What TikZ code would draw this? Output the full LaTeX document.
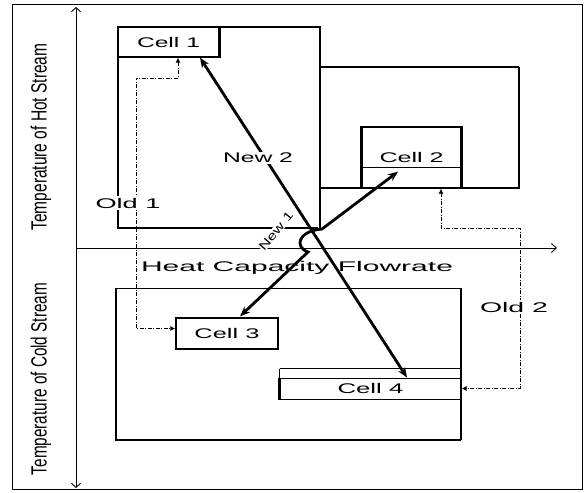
\documentclass[tikz,border=0pt]{standalone}
\usepackage{fontspec}
\setmainfont{Liberation Sans}
\usetikzlibrary{arrows.meta,calc}
\newcommand\wtxt[2]{\resizebox{#1}{\height}{#2}}
\begin{document}
\begin{tikzpicture}[x=1pt,y=-1pt,
 thk/.style={line width=2.6pt},
 med/.style={line width=1.6pt},
 thn/.style={line width=1pt},
 cellbox/.style={draw,line width=1.3pt,inner sep=0pt,font=\fontsize{14}{14}\selectfont},
 lbl/.style={fill=white,inner sep=1.5pt,font=\fontsize{14}{14}\selectfont},
 newflow/.style={line width=2.8pt,{Stealth[length=10pt,width=8pt]}-{Stealth[length=10pt,width=8pt]}},
 oldflow/.style={line width=0.9pt,dash pattern=on 4pt off 1.5pt on 1pt off 1.5pt,{Latex[length=5pt,width=5pt]}-{Latex[length=5pt,width=5pt]}},
 axis/.style={line width=0.9pt},
]
\useasboundingbox (0,0) rectangle (585,492);
\draw[thn] (12,5) rectangle (582,489);
% axes
\coordinate (ytop) at (76,7);
\coordinate (ybot) at (76,488);
\coordinate (xorg) at (76,248);
\coordinate (xend) at (557,248);
\draw[axis,{Straight Barb[length=4pt,width=9pt]}-{Straight Barb[length=4pt,width=9pt]}] (ytop) -- (ybot);
\draw[axis,-{Straight Barb[length=5pt,width=9pt]}] (xorg) -- (xend);
% axis titles
\node[rotate=90,inner sep=0pt,font=\fontsize{22}{22}\selectfont] (thot) at (41,137) {\wtxt{187pt}{Temperature of Hot Stream}};
\node[rotate=90,inner sep=0pt,font=\fontsize{22}{22}\selectfont] (tcold) at (41,379) {\wtxt{192pt}{Temperature of Cold Stream}};
% cells
\node[cellbox,minimum width=101pt,minimum height=30pt] (c1) at (168.5,42) {\wtxt{63pt}{Cell 1}\hspace{14pt}};
\node[cellbox,minimum width=99pt,minimum height=61pt] (c2) at (411.5,157.5) {\wtxt{64pt}{Cell 2}\hspace{12pt}};
\node[cellbox,minimum width=102pt,minimum height=31pt] (c3) at (227,333.5) {\wtxt{65pt}{Cell 3}};
\node[cellbox,line width=1pt,minimum width=181pt,minimum height=21pt] (c4) at (370.5,388.5) {\wtxt{66pt}{Cell 4}\hspace{11pt}};
% hot stream region 1
\draw[thk] (320,230) -- (320,27) -- (118,27) -- (118,228) -- (318,228);
\draw[thk] (c1.north east) -- (c1.south east);
% hot stream region 2
\draw[med] (320,67) -- (519,67);
\draw[thk] (519,67) -- (519,188) -- (320,188);
\draw[thk] (c2.south west) -- (c2.north west);
\draw[thk] (c2.north east) -- (c2.south east);
\draw[thn] ($(c2.south west)+(0,-21)$) -- ($(c2.south east)+(0,-21)$);
% cold stream region
\draw[thn] (116,288) -- (461,288);
\draw[med] (461,288) -- (461,440);
\draw[thk] (116,288) -- (116,440) -- (461,440);
\draw[thn] ($(c4.north west)+(0,-9)$) -- ($(c4.north east)+(0,-9)$);
\draw[thn] ($(c4.north west)+(0,-9)$) -- (c4.north west);
\draw[thk] (c4.north west) -- (c4.south west);
% arrow end points
\coordinate (c1tip) at ($(c1.south)+(31.5,0)$);
\coordinate (c1old) at ($(c1.south)+(9.5,0)$);
\coordinate (c2tip) at ($(c2.south)+(-13.5,-17)$);
\coordinate (c2old) at ($(c2.south)+(29.5,0)$);
\coordinate (c3tip) at ($(c3.north)+(13,-1)$);
\coordinate (c3old) at ($(c3.west)+(0,-5)$);
\coordinate (c4tip) at ($(c4.north)+(36.5,0)$);
\coordinate (c4old) at (c4.east);
% old matches
\draw[oldflow] (c1old) -- (178,78) -- (136,78) -- (136,328.5) -- (c3old);
\draw[oldflow] (c2old) -- (441,228) -- (520,228) -- (520,388.5) -- (c4old);
% new matches
\draw[newflow] (c1tip) -- (c4tip);
\draw[newflow] (c2tip) -- (322,229) .. controls (298,231) and (294,247) .. (308,252) -- (c3tip);
% labels
\node[lbl] (o1) at (128,203) {\wtxt{65pt}{Old 1}};
\node[lbl] (n2) at (258,158) {\wtxt{70pt}{New 2}};
\node[lbl,rotate=50,inner sep=0.5pt,font=\fontsize{12}{12}\selectfont] (n1) at (276,231) {\wtxt{46pt}{New 1}};
\node[lbl] (o2) at (514,307) {\wtxt{68pt}{Old 2}};
\node[inner sep=0pt,font=\fontsize{14}{14}\selectfont] (hcf) at (297,268) {\wtxt{312pt}{Heat Capacity Flowrate}};
\end{tikzpicture}
\end{document}
